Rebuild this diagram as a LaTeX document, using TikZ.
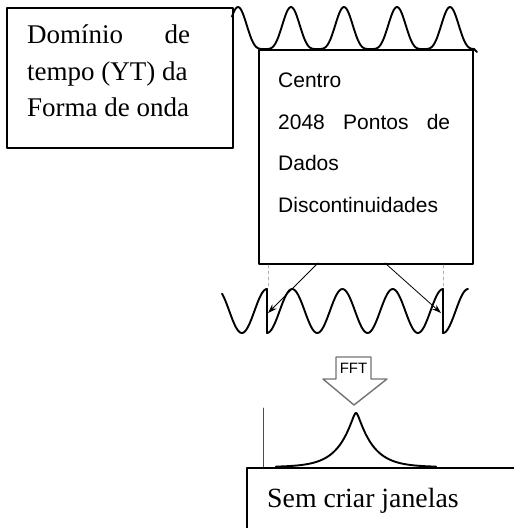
\documentclass[tikz,border=0pt]{standalone}
\usepackage{fontspec}
\usetikzlibrary{arrows.meta}
\setmainfont{Liberation Serif}
\newfontfamily\arial{Liberation Sans}
\begin{document}
\begin{tikzpicture}[x=1pt,y=-1pt,>={Stealth[length=9pt,width=6pt]},line join=round,line cap=round,
	caixa/.style={draw,line width=1.5pt,inner sep=0pt},
	onda/.style={line width=1.9pt,smooth},
	seta/.style={->,line width=0.8pt}]
	\def\per{53} \def\amp{42}
	\def\pr{50.3} \def\meio{311}
	\useasboundingbox (0,0) rectangle (514,528);
	\clip (0,0) rectangle (514,528);
	%	\draw[color=gray!50,dashed] (0,0) grid[step=50] (514,528);
	% caixas de texto
	\node[caixa,minimum width=226pt,minimum height=140pt,anchor=north west] (tempo) at (6,7) {};
	\node[anchor=north west,inner sep=0pt,align=left,font=\fontsize{27}{36.5}\selectfont] (tempoTxt) at (27,24.6)
		{\makebox[163pt][s]{Domínio de}\\tempo (YT) da\\Forma de onda};
	\node[caixa,fill=white,minimum width=214pt,minimum height=214pt,anchor=north west] (centro) at (258,49) {};
	\node[anchor=north west,inner sep=0pt,align=left,font=\arial\fontsize{21}{41.5}\selectfont] (centroTxt) at (278,72.7)
		{Centro\\\makebox[172pt][s]{2048 Pontos de}\\Dados\\Discontinuidades};
	% onda no dominio do tempo
	\draw[onda,samples=200,domain=232:474] plot(\x,{49-\amp*((1+cos(360/\per*(\x-238)))/2)^2}) -- ++(3,3);
	% onda repetida com descontinuidades
	\draw[onda,samples=40] plot[domain=222:267](\x,{\meio-22*cos(360/\pr*(\x-267))})
		-- plot[domain=267:443,samples=120](\x,{\meio+22*cos(360/\pr*(\x-267))})
		-- plot[domain=443:468](\x,{\meio+22*cos(360/\pr*(\x-443))});
	\coordinate (descE) at (268,313); \coordinate (descD) at (441,313);
	\coordinate (saiE) at (318,263); \coordinate (saiD) at (385,263);
	\coordinate (tracoE) at (268,265); \coordinate (fimE) at (268,287);
	\coordinate (tracoD) at (443,265); \coordinate (fimD) at (443,287);
	\draw[gray!60,dashed,line width=0.7pt] (tracoE)--(fimE) (tracoD)--(fimD);
	\draw[seta] (saiE)--(descE);
	\draw[seta] (saiD)--(descD);
	% seta FFT
	\draw[black!55,line width=1.4pt,fill=white] (336,357)--(371,357)--(371,379)--(387,379)--(354,405)--(323,379)--(336,379)--cycle;
	\node[font=\arial\fontsize{15}{15}\selectfont] (fft) at (353.5,368.5) {FFT};
	% espectro
	\draw[line width=0.7pt,black!70] (263,408)--(263,467);
	\draw[onda,samples=300,domain=276:436] plot(\x,{467-54*exp(-(sqrt((\x-356)^2+4)-2)/16)});
	\node[caixa,fill=white,minimum width=300pt,minimum height=100pt,anchor=north west] (semJanela) at (246,467) {};
	\node[anchor=base west,inner sep=0pt,font=\fontsize{27.8}{30}\selectfont] (semTxt) at (267,507) {Sem criar janelas};
\end{tikzpicture}
\end{document}
